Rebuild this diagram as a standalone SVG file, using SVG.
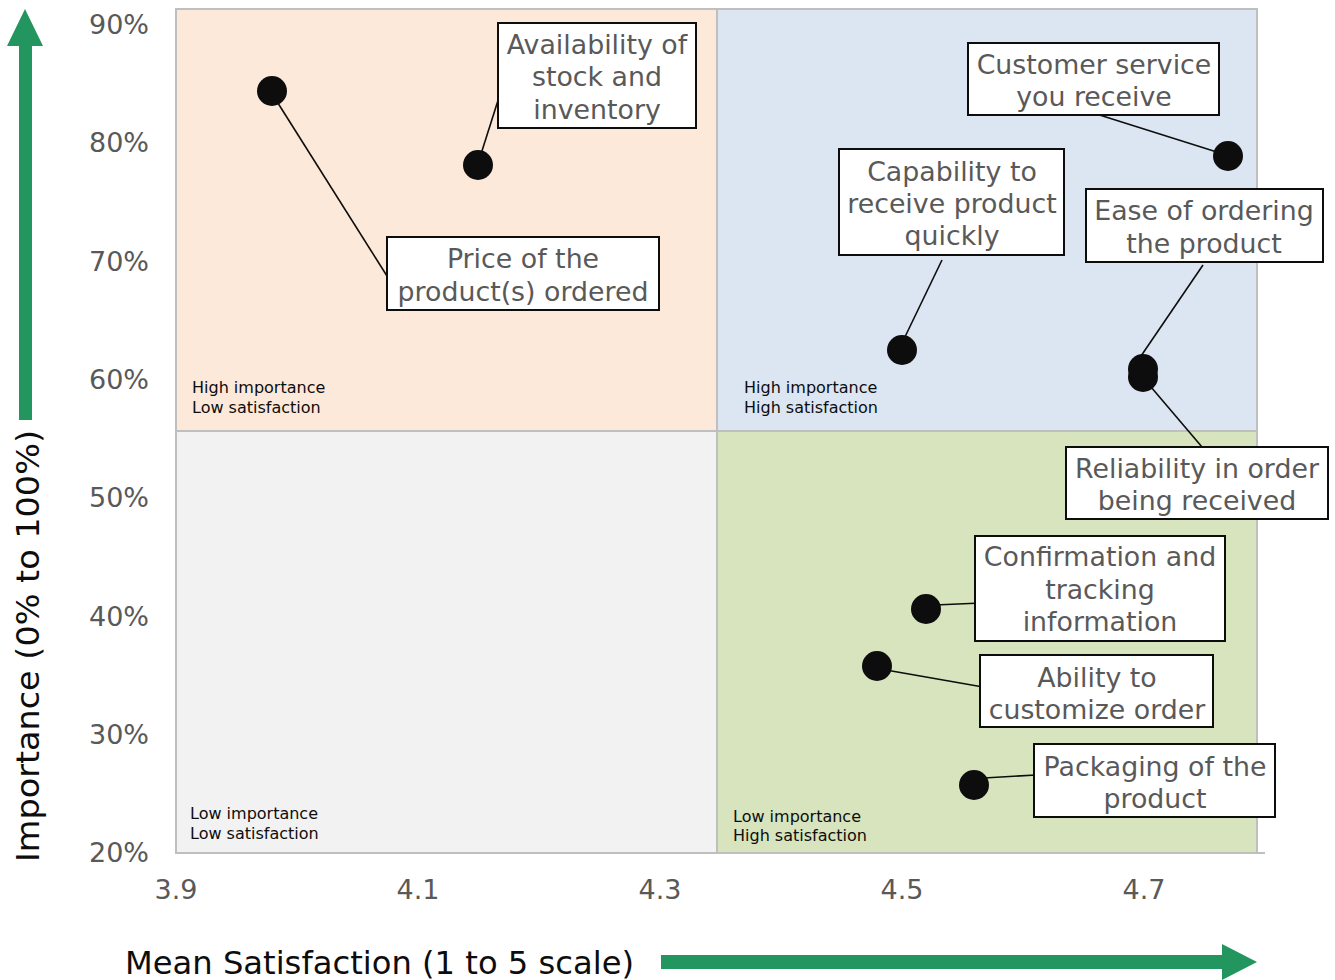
<svg xmlns="http://www.w3.org/2000/svg" width="1335" height="980" viewBox="0 0 1335 980">
<style>
.tick{font-family:"DejaVu Sans",Verdana,sans-serif;font-size:27px;fill:#595959}
.box{fill:#fff;stroke:#0d0d0d;stroke-width:2}
.bt{font-family:"DejaVu Sans",Verdana,sans-serif;font-size:26.8px;fill:#595959;text-anchor:middle}
.ql{font-family:"DejaVu Sans",Verdana,sans-serif;font-size:16px;fill:#0d0d0d}
.dot{fill:#0d0d0d}
.lead{stroke:#0d0d0d;stroke-width:1.6;fill:none}
.title{font-family:"DejaVu Sans",Verdana,sans-serif;font-size:32.5px;fill:#0d0d0d}
.arrow{fill:#23955f}
</style>
<rect width="1335" height="980" fill="#fff"/>
<g id="quadrants">
<rect x="176" y="9" width="541" height="422" fill="#fde9d9"/>
<rect x="717" y="9" width="540" height="422" fill="#dce6f2"/>
<rect x="176" y="431" width="541" height="422" fill="#f2f2f2"/>
<rect x="717" y="431" width="540" height="422" fill="#d7e4bd"/>
<rect x="176" y="9" width="1081" height="844" fill="none" stroke="#bfbfbf" stroke-width="2"/>
<line x1="176" y1="431" x2="1257" y2="431" stroke="#bfbfbf" stroke-width="2"/>
<line x1="717" y1="9" x2="717" y2="853" stroke="#bfbfbf" stroke-width="2"/>
<line x1="176" y1="853" x2="1265" y2="853" stroke="#bfbfbf" stroke-width="2"/>
<text class="ql" x="192" y="393">High importance</text>
<text class="ql" x="192" y="413">Low satisfaction</text>
<text class="ql" x="744" y="393">High importance</text>
<text class="ql" x="744" y="413">High satisfaction</text>
<text class="ql" x="190" y="819">Low importance</text>
<text class="ql" x="190" y="839">Low satisfaction</text>
<text class="ql" x="733" y="822">Low importance</text>
<text class="ql" x="733" y="841">High satisfaction</text>
</g>
<g id="yaxis">
<text class="tick" x="149" y="34" text-anchor="end">90%</text>
<text class="tick" x="149" y="152" text-anchor="end">80%</text>
<text class="tick" x="149" y="271" text-anchor="end">70%</text>
<text class="tick" x="149" y="389" text-anchor="end">60%</text>
<text class="tick" x="149" y="507" text-anchor="end">50%</text>
<text class="tick" x="149" y="626" text-anchor="end">40%</text>
<text class="tick" x="149" y="744" text-anchor="end">30%</text>
<text class="tick" x="149" y="862" text-anchor="end">20%</text>
</g>
<g id="xaxis">
<text class="tick" x="176" y="899" text-anchor="middle">3.9</text>
<text class="tick" x="418" y="899" text-anchor="middle">4.1</text>
<text class="tick" x="660" y="899" text-anchor="middle">4.3</text>
<text class="tick" x="902" y="899" text-anchor="middle">4.5</text>
<text class="tick" x="1144" y="899" text-anchor="middle">4.7</text>
</g>
<g id="titles">
<text class="title" transform="translate(39,646) rotate(-90)" text-anchor="middle" textLength="432" lengthAdjust="spacingAndGlyphs">Importance (0% to 100%)</text>
<text class="title" x="125" y="974" textLength="509" lengthAdjust="spacingAndGlyphs">Mean Satisfaction (1 to 5 scale)</text>
<polygon class="arrow" points="19,420 32,420 32,46 43,46 25,9 7,46 19,46"/>
<polygon class="arrow" points="661,955 1222,955 1222,944 1257,962 1222,980 1222,969 661,969"/>
</g>
<g id="connectors">
<line class="lead" x1="276" y1="100" x2="387" y2="276"/>
<line class="lead" x1="481" y1="154" x2="501" y2="91"/>
<line class="lead" x1="1090" y1="112" x2="1220" y2="153"/>
<line class="lead" x1="942" y1="260" x2="903" y2="341"/>
<line class="lead" x1="1203" y1="265" x2="1141" y2="356"/>
<line class="lead" x1="1151" y1="387" x2="1202" y2="447"/>
<line class="lead" x1="935" y1="605" x2="981" y2="603"/>
<line class="lead" x1="886" y1="670" x2="983" y2="687"/>
<line class="lead" x1="984" y1="778" x2="1036" y2="775"/>
</g>
<g id="price">
<circle class="dot" cx="272" cy="91" r="15"/>
<rect class="box" x="387" y="237" width="272" height="73"/>
<text class="bt" x="523" y="268">Price of the</text>
<text class="bt" x="523" y="301">product(s) ordered</text>
</g>
<g id="availability">
<circle class="dot" cx="478" cy="165" r="15"/>
<rect class="box" x="498" y="23" width="198" height="105"/>
<text class="bt" x="597" y="54">Availability of</text>
<text class="bt" x="597" y="86">stock and</text>
<text class="bt" x="597" y="119">inventory</text>
</g>
<g id="customer-service">
<circle class="dot" cx="1228" cy="156" r="15"/>
<rect class="box" x="968" y="43" width="251" height="72"/>
<text class="bt" x="1094" y="74">Customer service</text>
<text class="bt" x="1094" y="106">you receive</text>
</g>
<g id="capability">
<circle class="dot" cx="902" cy="350" r="15"/>
<rect class="box" x="839" y="149" width="225" height="106"/>
<text class="bt" x="952" y="181">Capability to</text>
<text class="bt" x="952" y="213">receive product</text>
<text class="bt" x="952" y="245">quickly</text>
</g>
<g id="reliability">
<circle class="dot" cx="1143" cy="377" r="15"/>
<rect class="box" x="1066" y="447" width="262" height="72"/>
<text class="bt" x="1197" y="478">Reliability in order</text>
<text class="bt" x="1197" y="510">being received</text>
</g>
<g id="ease">
<circle class="dot" cx="1143" cy="369" r="15"/>
<rect class="box" x="1086" y="189" width="237" height="73"/>
<text class="bt" x="1204" y="220">Ease of ordering</text>
<text class="bt" x="1204" y="253">the product</text>
</g>
<g id="confirmation">
<circle class="dot" cx="926" cy="609" r="15"/>
<rect class="box" x="975" y="536" width="250" height="105"/>
<text class="bt" x="1100" y="566">Confirmation and</text>
<text class="bt" x="1100" y="599">tracking</text>
<text class="bt" x="1100" y="631">information</text>
</g>
<g id="ability">
<circle class="dot" cx="877" cy="666" r="15"/>
<rect class="box" x="980" y="655" width="233" height="72"/>
<text class="bt" x="1097" y="687">Ability to</text>
<text class="bt" x="1097" y="719">customize order</text>
</g>
<g id="packaging">
<circle class="dot" cx="974" cy="785" r="15"/>
<rect class="box" x="1034" y="744" width="241" height="73"/>
<text class="bt" x="1155" y="776">Packaging of the</text>
<text class="bt" x="1155" y="808">product</text>
</g>
</svg>
